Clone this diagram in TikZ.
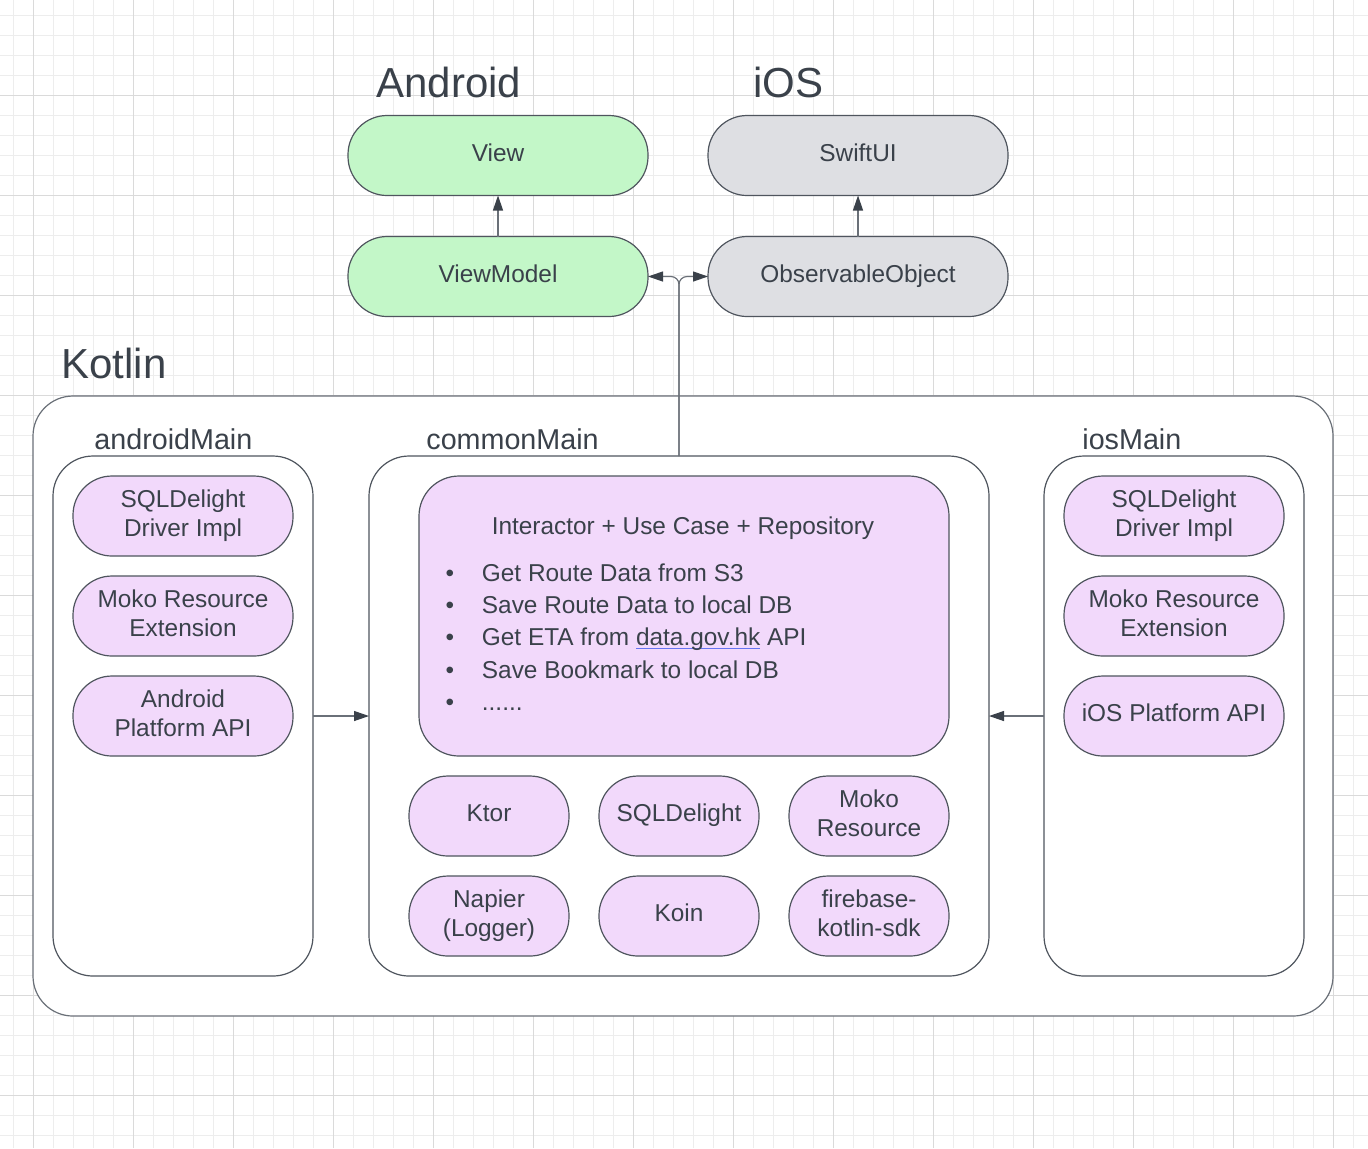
\documentclass[tikz,border=0pt]{standalone}
\usepackage{fontspec}
\setmainfont{Liberation Sans}
\usetikzlibrary{positioning, arrows.meta}
\definecolor{Slate Ink}{HTML}{3A414A}
\definecolor{Slate Edge}{HTML}{4F555E}
\definecolor{Soft Wire}{HTML}{6A7078}
\definecolor{Mint}{HTML}{C3F7C8}
\definecolor{Cloud}{HTML}{DEDFE3}
\definecolor{Lilac}{HTML}{F2D9FB}
\definecolor{Link Blue}{HTML}{6574F2}
\definecolor{Paper Minor}{HTML}{EDEDED}
\definecolor{Paper Major}{HTML}{DADADA}
\colorlet{cInk}{Slate Ink}
\colorlet{cEdge}{Slate Edge}
\colorlet{cWire}{Soft Wire}
\colorlet{cGreen}{Mint}
\colorlet{cGray}{Cloud}
\colorlet{cPurple}{Lilac}
\colorlet{cLink}{Link Blue}
\newcommand{\weblink}[1]{\setbox0\hbox{#1}\rlap{\textcolor{cLink}{\rule[-1.5pt]{\wd0}{0.6pt}}}\box0\relax}
\newcommand{\etcdots}{......}
\tikzset{
	node distance = 10pt,
	font = \fontsize{12.2pt}{14.2pt}\selectfont,
	text = cInk,
	pill/.style={
		draw=cEdge,
		line width=.6pt,
		rounded corners=19.5pt,
		minimum height=40pt,
		align=center,
		inner sep=0pt,
		outer sep=0pt,
		execute at begin node={\vrule width 0pt height 8.5pt depth 0pt},
		execute at end node={\vrule width 0pt height 0pt depth 3pt}
	},
	container/.style={
		draw=cEdge,
		line width=.6pt,
		fill=white,
		rounded corners=20pt,
		inner sep=0pt,
		outer sep=0pt
	},
	heading/.style={
		font=\fontsize{21pt}{25pt}\selectfont,
		inner sep=0pt,
		anchor=base west
	},
	caption/.style={
		font=\fontsize{14.35pt}{17pt}\selectfont,
		inner sep=0pt,
		anchor=base west
	},
	flow/.style={
		draw=cWire,
		line width=.6pt,
		-{Triangle[length=7.5pt, width=5pt, color=cInk]}
	},
	grid minor/.style={draw=Paper Minor, line width=.5pt},
	grid major/.style={draw=Paper Major, line width=.5pt}
}

\begin{document}
\begin{tikzpicture}[x=0.5pt, y=-0.5pt]
\useasboundingbox (0,0) rectangle (1368,1148);
% ---
% paper grid
% ---
\foreach \gx in {13,33,...,1367} \draw[grid minor] (\gx,0) -- (\gx,1148);
\foreach \gy in {15,35,...,1147} \draw[grid minor] (0,\gy) -- (1368,\gy);
\foreach \gx in {33,133,...,1367} \draw[grid major] (\gx,0) -- (\gx,1148);
\foreach \gy in {95,195,...,1147} \draw[grid major] (0,\gy) -- (1368,\gy);

% ---
% platform layers
% ---
\node[heading] (android-title) at (376,97) {Android};
\node[heading] (ios-title) at (753,97) {iOS};

\node[pill, fill=cGreen, minimum width=150pt] at (498,155.5) (view) {View};
\node[pill, fill=cGreen, minimum width=150pt, below=20.5pt of view] (viewModel) {ViewModel};
\node[pill, fill=cGray, minimum width=150pt, right=30pt of view] (swiftUI) {SwiftUI};
\node[pill, fill=cGray, minimum width=150pt, below=20.5pt of swiftUI] (observable) {ObservableObject};

\draw[flow] (viewModel) -- (view);
\draw[flow] (observable) -- (swiftUI);

% ---
% kotlin multiplatform
% ---
\node[heading] (kotlin-title) at (61,378) {Kotlin};
\node[container, draw=cWire, minimum width=650pt, minimum height=310pt] at (683,706) (kotlin) {};

\node[caption] (androidMain-title) at (94,449) {androidMain};
\node[caption] (commonMain-title) at (426,449) {commonMain};
\node[caption] (iosMain-title) at (1082,449) {iosMain};

\node[container, minimum width=130pt, minimum height=260pt] at (183,716) (androidMain) {};
\node[container, minimum width=310pt, minimum height=260pt] at (679,716) (commonMain) {};
\node[container, minimum width=130pt, minimum height=260pt] at (1174,716) (iosMain) {};

% androidMain
\node[pill, fill=cPurple, minimum width=110pt] at (183,516) (sqlDroid) {SQLDelight\\Driver Impl};
\node[pill, fill=cPurple, minimum width=110pt, below=of sqlDroid] (mokoDroid) {Moko Resource\\Extension};
\node[pill, fill=cPurple, minimum width=110pt, below=of mokoDroid] (apiDroid) {Android\\Platform API};

% iosMain
\node[pill, fill=cPurple, minimum width=110pt] at (1174,516) (sqlIos) {SQLDelight\\Driver Impl};
\node[pill, fill=cPurple, minimum width=110pt, below=of sqlIos] (mokoIos) {Moko Resource\\Extension};
\node[pill, fill=cPurple, minimum width=110pt, below=of mokoIos] (apiIos) {iOS Platform API};

% commonMain
\node[container, fill=cPurple, minimum width=265pt, minimum height=140pt] at (684,616) (interactor) {};
\node[anchor=base, inner sep=0pt] at (683,534) (interactor-title) {Interactor + Use Case + Repository};
\foreach \task [count=\i] in {Get Route Data from S3, Save Route Data to local DB, Get ETA from \weblink{data.gov.hk} API, Save Bookmark to local DB, \etcdots} {
	\node[anchor=base, inner sep=0pt] at (450,549.6+32.1*\i) (dot-\i) {\textbullet};
	\node[anchor=base west, inner sep=0pt] at (481.5,549.6+32.1*\i) (task-\i) {\task};
}

\node[pill, fill=cPurple, minimum width=80pt] at (489,816) (ktor) {Ktor};
\node[pill, fill=cPurple, minimum width=80pt, right=15pt of ktor] (sqlCommon) {SQLDelight};
\node[pill, fill=cPurple, minimum width=80pt, right=15pt of sqlCommon] (mokoCommon) {Moko\\Resource};
\node[pill, fill=cPurple, minimum width=80pt, below=of ktor] (napier) {Napier\\(Logger)};
\node[pill, fill=cPurple, minimum width=80pt, below=of sqlCommon] (koin) {Koin};
\node[pill, fill=cPurple, minimum width=80pt, below=of mokoCommon] (firebase) {firebase-\\kotlin-sdk};

% dependencies
\draw[flow] (androidMain) -- (commonMain);
\draw[flow] (iosMain) -- (commonMain);
\draw[flow, rounded corners=4pt] (commonMain.north) |- (viewModel.east);
\draw[flow, rounded corners=4pt] (commonMain.north) |- (observable.west);
\end{tikzpicture}
\end{document}
